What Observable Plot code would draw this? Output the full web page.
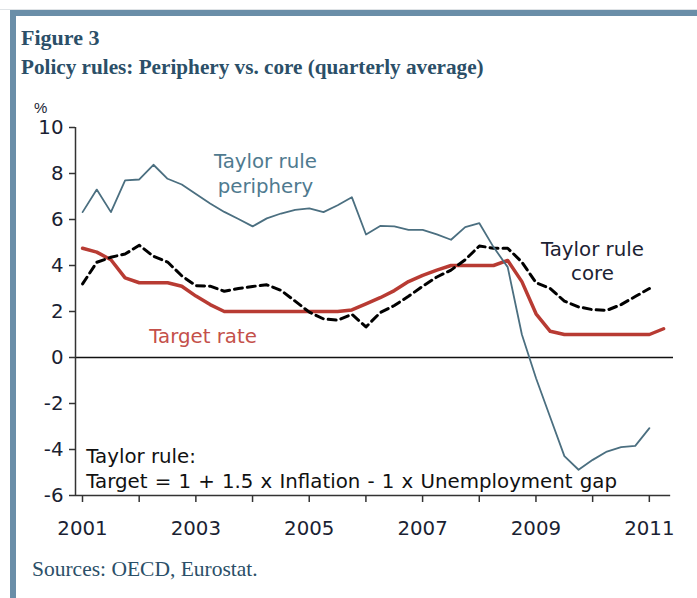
<!DOCTYPE html>
<html>
<head>
<meta charset="utf-8">
<script src="https://cdn.jsdelivr.net/npm/d3@7"></script>
<script src="https://cdn.jsdelivr.net/npm/@observablehq/plot@0.6"></script>
<style>
  html, body { margin: 0; padding: 0; background: #fff; }
  #wrap { position: relative; width: 697px; height: 598px; overflow: hidden; background: #fff; }
  #topline { position: absolute; left: 0; top: 9px; width: 697px; height: 1px; background: #dfe3e6; }
  #frame { position: absolute; left: 10px; top: 10px; width: 687px; height: 588px;
           border-top: 6px solid #6a8ea8; border-left: 6px solid #6a8ea8; box-sizing: border-box; }
  .ttl { position: absolute; font-family: "Liberation Serif", serif; color: #2b4f68; white-space: nowrap; }
  #pct { position: absolute; left: 34px; top: 100px; font-family: "Liberation Sans", Arial, sans-serif; font-size: 15px; line-height: 15px; color: #1b1f33; }
  #chart { position: absolute; left: 0; top: 0; }
</style>
</head>
<body>
<div id="wrap">
  <div id="topline"></div>
  <div id="frame"></div>
  <div class="ttl" style="left:21px; top:27px; font-weight:bold; font-size:22px; line-height:22px;">Figure 3</div>
  <div class="ttl" style="left:21px; top:56px; font-weight:bold; font-size:21.2px; line-height:22px;">Policy rules: Periphery vs. core (quarterly average)</div>
  <div id="pct">%</div>
  <div id="chart"></div>
  <div class="ttl" style="left:32px; top:558px; font-size:21.5px; line-height:22px;">Sources: OECD, Eurostat.</div>
</div>
<script>
// Quarters (mid-quarter positions on a yearly axis)
const quarters = [
  "2001Q1","2001Q2","2001Q3","2001Q4","2002Q1","2002Q2","2002Q3","2002Q4",
  "2003Q1","2003Q2","2003Q3","2003Q4","2004Q1","2004Q2","2004Q3","2004Q4",
  "2005Q1","2005Q2","2005Q3","2005Q4","2006Q1","2006Q2","2006Q3","2006Q4",
  "2007Q1","2007Q2","2007Q3","2007Q4","2008Q1","2008Q2","2008Q3","2008Q4",
  "2009Q1","2009Q2","2009Q3","2009Q4","2010Q1","2010Q2","2010Q3","2010Q4",
  "2011Q1","2011Q2"
];

// Taylor rule, periphery (2001Q1 - 2011Q1)
const periphery = [
  6.32, 7.30, 6.32, 7.70, 7.74, 8.38, 7.77, 7.52, 7.11, 6.70,
  6.33, 6.02, 5.70, 6.05, 6.26, 6.42, 6.48, 6.32, 6.62, 6.97,
  5.35, 5.72, 5.70, 5.55, 5.55, 5.35, 5.12, 5.67, 5.84, 4.80,
  3.93, 1.00, -0.90, -2.60, -4.29, -4.88, -4.45, -4.09, -3.90, -3.84,
  -3.07
];

// Taylor rule, core (2001Q1 - 2011Q1)
const core = [
  3.20, 4.14, 4.36, 4.50, 4.88, 4.40, 4.15, 3.55, 3.12, 3.10,
  2.88, 3.00, 3.09, 3.16, 2.92, 2.45, 1.97, 1.68, 1.62, 1.88,
  1.33, 1.95, 2.26, 2.66, 3.10, 3.50, 3.80, 4.25, 4.85, 4.75,
  4.75, 4.15, 3.25, 3.00, 2.45, 2.20, 2.08, 2.05, 2.30, 2.65,
  3.00
];

// Target rate (2001Q1 - 2011Q2)
const target = [
  4.75, 4.58, 4.25, 3.46, 3.25, 3.25, 3.25, 3.10, 2.67, 2.30,
  2.00, 2.00, 2.00, 2.00, 2.00, 2.00, 2.00, 2.00, 2.00, 2.07,
  2.33, 2.60, 2.91, 3.30, 3.57, 3.80, 4.00, 4.00, 4.00, 4.00,
  4.22, 3.30, 1.90, 1.14, 1.00, 1.00, 1.00, 1.00, 1.00, 1.00,
  1.00, 1.25
];

const yearTicks = [2001, 2002, 2003, 2004, 2005, 2006, 2007, 2008, 2009, 2010, 2011];
const yTicks = [-6, -4, -2, 0, 2, 4, 6, 8, 10];

const qpos = q => +q.slice(0, 4) + (+q.slice(5) - 0.5) / 4;
const rows = vals => vals.map((v, i) => ({t: qpos(quarters[i]), v}));

const W = 697, H = 598;
const textColor = "#1b1f33";
const FS = 19.8;
const formula = "Target = 1 + 1.5 x Inflation - 1 x Unemployment gap";

const chart = Plot.plot({
  width: W,
  height: H,
  marginTop: 127,
  marginBottom: H - 495,
  marginLeft: 75,
  marginRight: 24,
  style: {fontFamily: "'DejaVu Sans', Verdana, sans-serif", fontSize: FS + "px", color: textColor, background: "transparent", overflow: "visible"},
  x: {domain: [2001, 2011.55], label: null},
  y: {domain: [-6, 10], label: null},
  marks: [
    Plot.axisY({ticks: yTicks, tickSize: 6, tickPadding: 6, strokeWidth: 1.5, stroke: "#333", fill: textColor, fontSize: FS,
                tickFormat: d => String(d), label: null}),
    Plot.axisX({ticks: yearTicks, tickSize: 7, tickPadding: 18, strokeWidth: 1.5, stroke: "#333", fill: textColor, fontSize: FS, dx: 7,
                tickFormat: d => (d % 2 === 1 ? String(d) : ""), label: null}),
    Plot.ruleY([0], {stroke: "#111", strokeWidth: 1.5}),
    Plot.ruleY([-6], {stroke: "#333", strokeWidth: 1.5, x1: 2001, x2: 2011.5}),
    Plot.ruleX([2001], {stroke: "#333", strokeWidth: 1.5, y1: -6, y2: 10}),
    Plot.line(rows(target), {x: "t", y: "v", stroke: "#b83b33", strokeWidth: 3.5, strokeLinejoin: "round"}),
    Plot.line(rows(core), {x: "t", y: "v", stroke: "#000", strokeWidth: 3, strokeDasharray: "8,5"}),
    Plot.line(rows(periphery), {x: "t", y: "v", stroke: "#4b6f80", strokeWidth: 1.8, strokeLinejoin: "round"}),
    Plot.text(["Taylor rule"], {x: 2004.35, y: 8.52, text: d => d, fill: "#4f7a8f", fontSize: FS, textAnchor: "middle"}),
    Plot.text(["periphery"], {x: 2004.35, y: 7.43, text: d => d, fill: "#4f7a8f", fontSize: FS, textAnchor: "middle"}),
    Plot.text(["Target rate"], {x: 2003.25, y: 0.91, text: d => d, fill: "#c4504a", fontSize: FS, textAnchor: "middle"}),
    Plot.text(["Taylor rule"], {x: 2010.12, y: 4.70, text: d => d, fill: "#1c2233", fontSize: FS, textAnchor: "middle"}),
    Plot.text(["core"], {x: 2010.12, y: 3.65, text: d => d, fill: "#1c2233", fontSize: FS, textAnchor: "middle"}),
    Plot.text(["Taylor rule:"], {x: 2001.19, y: -4.30, text: d => d, fill: "#111", fontSize: FS, textAnchor: "start"}),
    Plot.text([formula], {x: 2001.19, y: -5.39, text: d => d, fill: "#111", fontSize: FS, textAnchor: "start"})
  ]
});
d3.select(chart).selectAll("text").filter(function () { return this.textContent === formula; })
  .style("word-spacing", "0.9px");
document.getElementById("chart").appendChild(chart);
</script>
</body>
</html>
